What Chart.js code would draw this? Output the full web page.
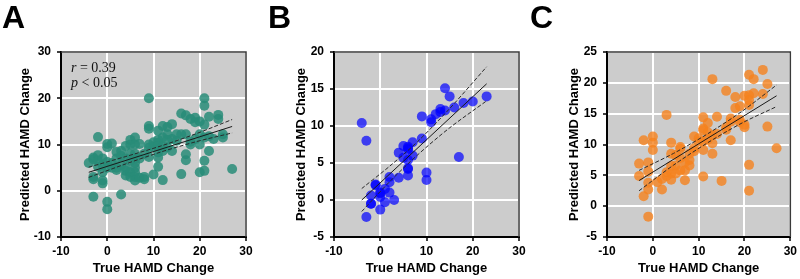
<!DOCTYPE html>
<html>
<head>
<meta charset="utf-8">
<script src="https://cdn.jsdelivr.net/npm/chart.js@4.4.1/dist/chart.umd.min.js"></script>
<style>
  html, body { margin: 0; padding: 0; background: #fff; }
  #wrap { position: relative; width: 800px; height: 279px; overflow: hidden; }
  #wrap canvas { position: absolute; top: 0; }
  .tag { position: absolute; top: 1px; font: bold 32px "Liberation Sans", Arial, sans-serif; line-height: 32px; color: #000; }
</style>
</head>
<body>
<div id="wrap">
  <canvas id="chart-a" width="265" height="279" style="left:0px"></canvas>
  <canvas id="chart-b" width="265" height="279" style="left:265px"></canvas>
  <canvas id="chart-c" width="270" height="279" style="left:530px"></canvas>
  <div class="tag" style="left:2px">A</div>
  <div class="tag" style="left:268px">B</div>
  <div class="tag" style="left:530px">C</div>
</div>
<script>
// panel A
const trueA = [-4, -3, -3, -3, -3, -3, -2, -2, -2, -2, -1, -1, -1, -1, -1,
  0, 0, 0, 0, 0, 0, 1, 1, 1, 2, 2, 2, 2, 3, 3, 3, 3, 4, 4, 4, 4, 4,
  5, 5, 5, 5, 5, 5, 6, 6, 6, 6, 6, 6, 6, 6, 6, 7, 7, 7, 8, 8, 8,
  9, 9, 9, 9, 9, 9, 10, 10, 10, 11, 11, 11, 11, 11, 11, 11,
  12, 12, 12, 12, 12, 13, 13, 13, 13, 14, 14, 14, 15, 15, 16, 16, 16,
  17, 17, 17, 17, 18, 18, 18, 19, 19, 19, 20, 20, 20, 20,
  21, 21, 21, 21, 21, 21, 22, 22, 22, 23, 24, 24, 25, 25, 27];
const predA = [6.0, 7.2, 6.8, 3.0, 2.5, -1.3, 11.6, 7.7, 6.5, 5.2, 7.0, 5.5, 4.0, 2.2, 1.6,
  10.1, 9.4, 6.2, 5.0, -2.4, -4.0, 10.2, 6.0, 5.0, 8.4, 7.0, 5.0, 4.5, 8.6, 7.5, 5.5, -0.8, 9.7, 7.0, 5.0, 4.3, 3.3,
  11.0, 10.0, 8.0, 6.5, 4.0, 3.0, 11.5, 10.0, 8.0, 7.0, 6.0, 5.0, 4.0, 3.0, 2.2, 10.1, 7.0, 2.8, 8.0, 3.0, 2.5,
  20.0, 14.0, 13.4, 10.0, 9.3, 7.3, 10.5, 9.5, 3.5, 13.0, 11.0, 10.3, 9.7, 8.3, 7.2, 5.2,
  14.0, 11.5, 9.5, 8.6, 2.3, 13.8, 12.2, 11.0, 9.4, 14.4, 11.2, 8.6, 12.2, 10.8, 16.7, 12.2, 3.6,
  16.3, 12.2, 7.9, 6.6, 15.5, 10.0, 10.6, 15.8, 11.2, 14.8, 15.0, 12.2, 10.0, 4.0,
  20.0, 18.4, 14.3, 11.5, 6.5, 4.3, 16.0, 8.6, 11.8, 11.2, 16.4, 15.5, 12.2, 11.5, 4.7];
const fitXA = [-4, 27];
const fitYA = [4.0, 13.9];
const bandXA = [-4, 4, 11.5, 19, 27];
const bandHiA = [5.1, 7.4, 9.65, 12.25, 15.4];
const bandLoA = [2.9, 5.8, 8.35, 10.55, 12.5];

// panel B
const trueB = [-4, -3, -3, -2, -2, -2, -1, -1, 0, 0, 0, 0, 1, 1, 2, 2, 2, 3,
  4, 4, 5, 5, 6, 6, 6, 6, 6, 6, 6, 7, 7, 9, 9, 10, 10, 11, 11, 12, 13, 13,
  14, 14, 15, 16, 17, 18, 20, 23];
const predB = [10.4, 8.0, -2.3, 0.6, -0.5, -0.5, 2.0, 2.1, 1.0, 0.9, 0.4, -1.3, 1.5, -0.3, 3.1, 2.4, 1.0, 0.0,
  6.4, 3.0, 7.3, 5.7, 7.2, 7.0, 6.8, 5.4, 4.2, 4.3, 3.3, 7.8, 6.0, 11.3, 8.3, 3.7, 2.7, 10.9, 10.5, 11.6, 12.3, 11.9,
  15.1, 12.1, 14.0, 12.5, 5.8, 13.1, 13.3, 14.0];
const fitXB = [-4, 23];
const fitYB = [0.0, 15.7];
const bandXB = [-4, 2, 8, 15, 23];
const bandHiB = [1.55, 4.55, 7.85, 12.35, 18.0];
const bandLoB = [-1.55, 2.45, 6.05, 9.75, 13.4];

// panel C
const trueC = [-3, -3, -2, -2, -1, -1, -1, -1, -1, 0, 0, 0, 1, 2, 2, 3, 3, 3,
  4, 4, 4, 4, 4, 5, 5, 5, 6, 6, 6, 6, 7, 7, 7, 8, 8, 8, 9, 9, 9, 10, 10,
  11, 11, 11, 11, 11, 11, 12, 12, 12, 13, 13, 13, 13, 14, 14, 15, 16, 16, 16,
  17, 17, 17, 18, 18, 19, 19, 19, 20, 20, 20, 21, 21, 21, 21, 21, 21,
  22, 22, 24, 24, 25, 25, 27];
const predC = [6.9, 4.9, 10.7, 1.6, 7.1, 5.6, 3.8, 2.7, -1.7, 11.3, 10.3, 9.1, 3.9, 4.4, 2.7, 14.8, 5.5, 4.9,
  10.3, 8.5, 6.5, 5.3, 4.3, 8.3, 6.6, 5.3, 9.6, 9.3, 7.8, 5.8, 7.1, 5.8, 4.2, 7.5, 6.6, 8.5, 11.3, 9.4, 8.9, 11.0, 10.5,
  14.4, 12.6, 12.3, 10.5, 9.1, 4.8, 13.5, 12.0, 10.8, 20.6, 11.5, 10.2, 8.5, 14.5, 11.7, 4.1, 18.7, 12.8, 12.4,
  14.2, 13.7, 10.7, 17.7, 15.9, 16.2, 14.0, 13.6, 17.9, 13.2, 12.8, 21.3, 18.0, 17.2, 16.4, 6.7, 2.5,
  20.6, 18.3, 22.1, 18.2, 19.8, 12.9, 9.4];
const fitXC = [-3, 27];
const fitYC = [4.15, 17.9];
const bandXC = [-3, 4.5, 12, 19.5, 27];
const bandHiC = [5.8, 8.55, 11.75, 15.4, 19.65];
const bandLoC = [2.5, 6.65, 10.3, 13.5, 16.15];

Chart.defaults.font.family = '"Liberation Sans", Arial, sans-serif';
Chart.defaults.color = '#000';

const pts = (xs, ys) => xs.map((x, i) => ({ x: x, y: ys[i] }));

const plotBox = {
  id: 'plotBox',
  beforeDraw(chart) {
    const { ctx, chartArea: a } = chart;
    ctx.save();
    ctx.fillStyle = '#cccccc';
    ctx.fillRect(a.left, a.top, a.right - a.left, a.bottom - a.top);
    ctx.restore();
  },
  afterDraw(chart) {
    const { ctx, chartArea: a } = chart;
    ctx.save();
    ctx.strokeStyle = '#3a3a3a';
    ctx.lineWidth = 1.5;
    ctx.beginPath();
    ctx.moveTo(a.left, a.top);
    ctx.lineTo(a.right, a.top);
    ctx.lineTo(a.right, a.bottom);
    ctx.stroke();
    ctx.restore();
  }
};

const statsNote = {
  id: 'statsNote',
  afterDraw(chart) {
    const { ctx, chartArea: a } = chart;
    const x = a.left + 10;
    const lines = [['r', ' = 0.39'], ['p', ' < 0.05']];
    ctx.save();
    ctx.fillStyle = '#111';
    ctx.textBaseline = 'alphabetic';
    lines.forEach((l, i) => {
      const y = a.top + 20 + i * 15;
      ctx.font = 'italic 14px "Liberation Serif", serif';
      ctx.fillText(l[0], x, y);
      const w = ctx.measureText(l[0]).width;
      ctx.font = '14px "Liberation Serif", serif';
      ctx.fillText(l[1], x + w, y);
    });
    ctx.restore();
  }
};

function makePanel(id, p) {
  const ctx = document.getElementById(id);
  const plugins = [plotBox];
  if (p.note) plugins.push(statsNote);
  return new Chart(ctx, {
    type: 'scatter',
    data: {
      datasets: [
        {
          data: pts(p.xs, p.ys),
          backgroundColor: p.color,
          borderWidth: 0,
          pointRadius: 5,
          order: 2
        },
        {
          data: pts(p.fitX, p.fitY),
          showLine: true,
          borderColor: '#1a1a1a',
          borderWidth: 1,
          pointRadius: 0,
          order: 1
        },
        {
          data: pts(p.bandX, p.bandHi),
          showLine: true,
          tension: 0.3,
          borderColor: '#2a2a2a',
          borderWidth: 1,
          borderDash: [4, 2],
          pointRadius: 0,
          order: 1
        },
        {
          data: pts(p.bandX, p.bandLo),
          showLine: true,
          tension: 0.3,
          borderColor: '#2a2a2a',
          borderWidth: 1,
          borderDash: [4, 2],
          pointRadius: 0,
          order: 1
        }
      ]
    },
    options: {
      responsive: false,
      animation: false,
      events: [],
      layout: { padding: { top: 52, right: p.padRight, left: 0, bottom: 0 } },
      scales: {
        x: {
          min: -10,
          max: 30,
          afterFit(scale) { scale.height = 42; },
          ticks: { stepSize: 10, padding: 3, font: { size: 12, weight: 'bold' } },
          grid: { color: '#ffffff', lineWidth: 2, tickColor: '#000', tickLength: 4, tickWidth: 1.5 },
          border: { color: '#000', width: 2 },
          title: { display: true, text: 'True HAMD Change', font: { size: 13, weight: 'bold' }, padding: { top: 0, bottom: 3 } }
        },
        y: {
          min: p.yMin,
          max: p.yMax,
          afterFit(scale) { scale.width = p.yWidth; },
          ticks: { stepSize: p.yStep, padding: 6, font: { size: 12, weight: 'bold' } },
          grid: { color: '#ffffff', lineWidth: 2, tickColor: '#000', tickLength: 4, tickWidth: 1.5 },
          border: { color: '#000', width: 2 },
          title: { display: true, text: 'Predicted HAMD Change', font: { size: 13, weight: 'bold' }, padding: { top: p.titlePad, bottom: 0 } }
        }
      },
      plugins: {
        legend: { display: false },
        tooltip: { enabled: false }
      }
    },
    plugins: plugins
  });
}

makePanel('chart-a', {
  xs: trueA, ys: predA, fitX: fitXA, fitY: fitYA, bandX: bandXA, bandHi: bandHiA, bandLo: bandLoA,
  color: 'rgba(40, 140, 120, 0.85)', yMin: -10, yMax: 30, yStep: 10, yWidth: 61, padRight: 19, titlePad: 18, note: true
});
makePanel('chart-b', {
  xs: trueB, ys: predB, fitX: fitXB, fitY: fitYB, bandX: bandXB, bandHi: bandHiB, bandLo: bandLoB,
  color: 'rgba(0, 0, 255, 0.7)', yMin: -5, yMax: 20, yStep: 5, yWidth: 69, padRight: 11, titlePad: 29
});
makePanel('chart-c', {
  xs: trueC, ys: predC, fitX: fitXC, fitY: fitYC, bandX: bandXC, bandHi: bandHiC, bandLo: bandLoC,
  color: 'rgba(245, 130, 30, 0.8)', yMin: -5, yMax: 25, yStep: 5, yWidth: 77, padRight: 7, titlePad: 37
});
</script>
</body>
</html>
